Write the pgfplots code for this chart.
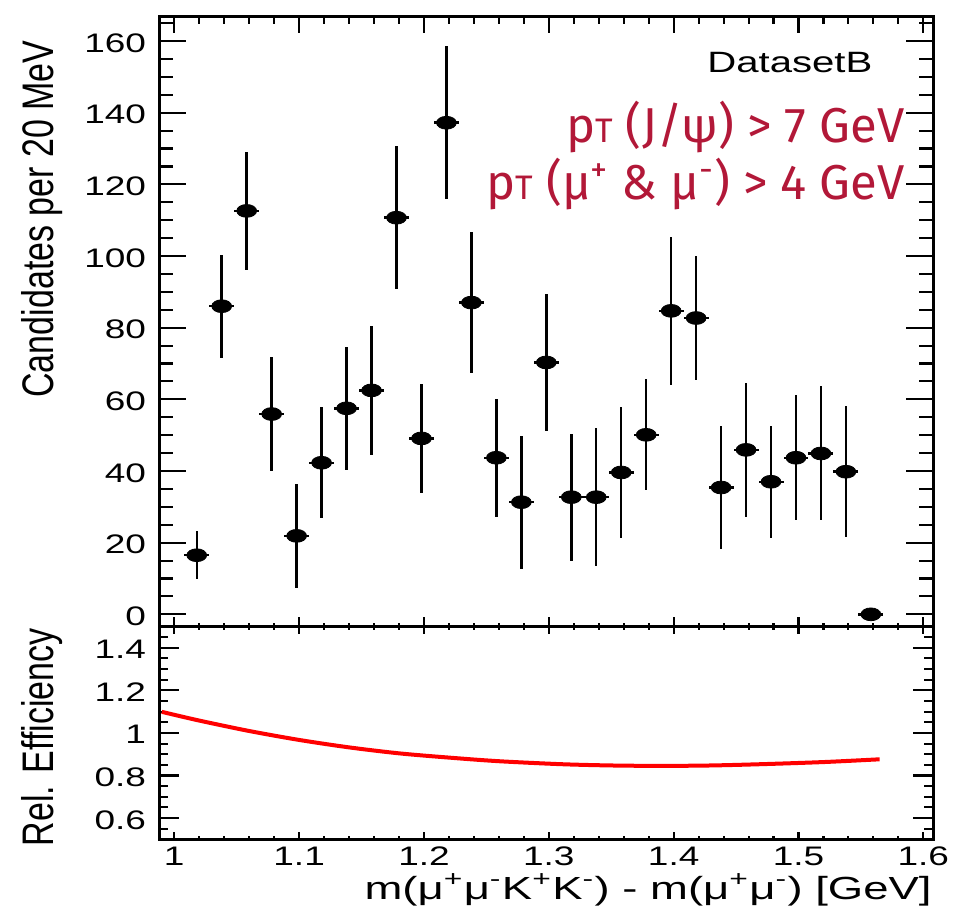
\documentclass[border=0pt]{standalone}
\usepackage{fontspec}
\setmainfont{Liberation Sans}
\newfontfamily\redfont{Fira Sans}
\usepackage{graphicx}
\usepackage{pgfplots}
\pgfplotsset{compat=1.18}
\definecolor{cutred}{RGB}{178,24,56}

\tikzset{ylab/.style={anchor=base east, inner sep=0pt, font=\fontsize{17}{17}\selectfont, yscale=1.3}}
\pgfplotsset{
  rootbase/.style={
    scale only axis, width=387pt, xmin=0.988, xmax=1.608,
    axis line style={line width=1.3pt},
    tick style={line width=1.05pt, black},
    tick align=inside,
    tick label style={font=\fontsize{13.4}{13.4}\selectfont, xscale=1.38},
    yticklabel style={anchor=east, inner sep=0pt, xshift=-4.6pt, yshift=-0.9pt},
    xticklabel style={anchor=north, inner sep=0pt, yshift=-3.6pt},
  },
  toppos/.style={rootbase, at={(79.65pt,142.75pt)}, anchor=south west, height=304.9pt, ymin=-3.4, ymax=166.8},
  botpos/.style={rootbase, at={(79.65pt,36.35pt)}, anchor=south west, height=106.4pt, ymin=0.5, ymax=1.5},
  xtickset/.style={ytick=\empty, yticklabels={},
    xtick={1,1.1,1.2,1.3,1.4,1.5,1.6},
    minor xtick={1.02,1.04,1.06,1.08,1.12,1.14,1.16,1.18,1.22,1.24,1.26,1.28,1.32,1.34,1.36,1.38,1.42,1.44,1.46,1.48,1.52,1.54,1.56,1.58}},
}

\begin{document}
\begin{tikzpicture}
\useasboundingbox (0,0) rectangle (478.5pt,456pt);

% ---------- top panel: data + y ticks ----------
\begin{axis}[toppos,
  xtick=\empty,
  ytick={0,20,40,60,80,100,120,140,160},
  yticklabels={0,20,40,60,80,100,120,140,160},
  minor ytick={5,10,15,25,30,35,45,50,55,65,70,75,85,90,95,105,110,115,125,130,135,145,150,155,165},
  ytick pos=both,
  major tick length=13.5pt, minor tick length=7pt,
  ylabel={Candidates per 20 MeV},
  ylabel style={ylab, at={(axis description cs:-0.1373,0.9618)}},
]
\addplot[only marks, black, mark=*, mark size=3.2pt,
  mark options={xscale=1.55, draw=black, fill=black},
  error bars/.cd, x dir=both, x explicit, y dir=both, y explicit,
  error mark=none, error bar style={line width=1.25pt, black}]
  table[x=x, y=y, x error=ex, y error=ey] {
x y ex ey
1.018 16.5 0.01 6.7
1.038 86.0 0.01 14.4
1.058 112.6 0.01 16.5
1.078 55.9 0.01 16.0
1.098 21.9 0.01 14.5
1.118 42.3 0.01 15.5
1.138 57.5 0.01 17.2
1.158 62.5 0.01 18.0
1.178 110.7 0.01 20.0
1.198 49.1 0.01 15.1
1.218 137.2 0.01 21.3
1.238 87.0 0.01 19.6
1.258 43.7 0.01 16.5
1.278 31.3 0.01 18.6
1.298 70.3 0.01 19.0
1.318 32.7 0.01 17.7
1.338 32.7 0.01 19.3
1.358 39.6 0.01 18.4
1.378 50.1 0.01 15.5
1.398 84.7 0.01 20.7
1.418 82.7 0.01 17.3
1.438 35.4 0.01 17.3
1.458 45.9 0.01 18.7
1.478 37.0 0.01 15.7
1.498 43.7 0.01 17.5
1.518 44.9 0.01 18.7
1.538 39.8 0.01 18.3
1.558 0.0 0.01 0.0
};
\node[anchor=base west, inner sep=0pt, font=\fontsize{14.7}{14.7}\selectfont]
  at (axis description cs:0.7076,0.9077) {\resizebox{82.5pt}{\height}{DatasetB}};
\node[anchor=base east, inner sep=0pt, text=cutred, font=\redfont\fontsize{24.5}{24.5}\selectfont]
  at (axis description cs:0.9634,0.7929) {p{\fontsize{17}{17}\selectfont T} (J/ψ) > 7 GeV};
\node[anchor=base east, inner sep=0pt, text=cutred, font=\redfont\fontsize{24.5}{24.5}\selectfont]
  at (axis description cs:0.9634,0.6995) {p{\fontsize{17}{17}\selectfont T} (μ\textsuperscript{+} \& μ\textsuperscript{-}) > 4 GeV};
\end{axis}

% top panel: upper x ticks
\begin{axis}[toppos, xtickset, xtick pos=right, xticklabels={},
  major tick length=8pt, minor tick length=3.5pt]
\end{axis}
% top panel: lower x ticks
\begin{axis}[toppos, xtickset, xtick pos=left, xticklabels={},
  major tick length=5pt, minor tick length=1.6pt]
\end{axis}

% ---------- bottom panel: curve + y ticks ----------
\begin{axis}[botpos,
  xtick=\empty,
  ytick={0.6,0.8,1.0,1.2,1.4},
  yticklabels={0.6,0.8,1,1.2,1.4},
  minor ytick={0.55,0.65,0.7,0.75,0.85,0.9,0.95,1.05,1.1,1.15,1.25,1.3,1.35,1.45},
  ytick pos=both,
  major tick length=10pt, minor tick length=4.5pt,
  ylabel={Rel. Efficiency},
  ylabel style={ylab, at={(axis description cs:-0.1373,0.993)}},
]
\addplot[smooth, red, line width=2pt, no marks] coordinates {
(0.990,1.099) (1.020,1.058) (1.060,1.009) (1.100,0.967) (1.140,0.932)
(1.180,0.904) (1.220,0.884) (1.260,0.867) (1.310,0.853) (1.350,0.847)
(1.390,0.845) (1.430,0.847) (1.470,0.853) (1.520,0.863) (1.565,0.876)
};
\end{axis}

% bottom panel: lower x ticks with labels + x label
\begin{axis}[botpos, xtickset, xtick pos=left,
  xticklabels={1,1.1,1.2,1.3,1.4,1.5,1.6},
  major tick length=3.8pt, minor tick length=1.6pt,
  xlabel={\resizebox{283.5pt}{\height}{m(μ\textsuperscript{+}μ\textsuperscript{-}K\textsuperscript{+}K\textsuperscript{-}) - m(μ\textsuperscript{+}μ\textsuperscript{-}) [GeV]}},
  xlabel style={at={(axis description cs:0.9983,-0.281)}, anchor=base east, inner sep=0pt, font=\fontsize{16}{16}\selectfont},
]
\end{axis}
% bottom panel: upper x ticks
\begin{axis}[botpos, xtickset, xtick pos=right, xticklabels={},
  major tick length=3.5pt, minor tick length=1.6pt]
\end{axis}
\end{tikzpicture}
\end{document}
